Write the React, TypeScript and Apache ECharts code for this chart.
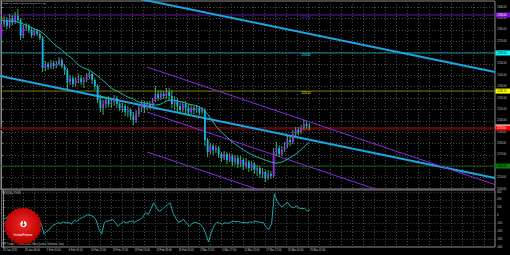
import React, { useEffect, useRef } from "react";
import * as echarts from "echarts";

// ---------- data ----------
const timeLabels = [
  "26 Jan 2015", "29 Jan 09:00", "3 Feb 05:00", "6 Feb 01:00", "10 Feb 21:00",
  "13 Feb 17:00", "18 Feb 13:00", "23 Feb 09:00", "26 Feb 05:00", "2 Mar 21:00",
  "5 Mar 17:00", "12 Mar 21:00", "17 Mar 17:00", "20 Mar 05:00", "25 Mar 01:00",
];

// [open, close, low, high]
const candles: number[][] = [
  [1272.7, 1285.0, 1269.2, 1290.3], [1285.0, 1288.5, 1282.4, 1292.0], [1288.5, 1283.3, 1280.6, 1291.2],
  [1283.3, 1290.3, 1281.5, 1293.8], [1290.3, 1286.8, 1284.1, 1292.9], [1286.8, 1292.0, 1285.0, 1295.6],
  [1292.0, 1288.5, 1285.9, 1298.2], [1288.5, 1274.5, 1270.9, 1290.3], [1274.5, 1281.5, 1272.7, 1284.1],
  [1281.5, 1283.3, 1278.9, 1285.9], [1283.3, 1279.7, 1277.1, 1285.0], [1279.7, 1275.3, 1272.7, 1282.4],
  [1275.3, 1278.9, 1274.5, 1281.5], [1278.9, 1276.2, 1274.5, 1280.6], [1276.2, 1272.7, 1270.9, 1278.9],
  [1272.7, 1246.3, 1242.8, 1274.5], [1246.3, 1249.8, 1243.7, 1252.5], [1249.8, 1247.2, 1244.6, 1251.6],
  [1247.2, 1250.7, 1245.4, 1253.4], [1250.7, 1248.1, 1245.4, 1252.5], [1248.1, 1249.8, 1246.3, 1252.5],
  [1249.8, 1253.4, 1248.1, 1256.0], [1253.4, 1248.1, 1246.3, 1255.1], [1248.1, 1244.6, 1240.2, 1249.8],
  [1244.6, 1234.0, 1227.0, 1246.3], [1234.0, 1237.5, 1231.4, 1240.2], [1237.5, 1232.3, 1229.6, 1239.3],
  [1232.3, 1235.8, 1230.5, 1238.4], [1235.8, 1237.5, 1233.1, 1241.1], [1237.5, 1234.0, 1231.4, 1240.2],
  [1234.0, 1235.8, 1228.7, 1238.4], [1235.8, 1239.3, 1234.0, 1241.9], [1239.3, 1241.1, 1236.7, 1243.7],
  [1241.1, 1235.8, 1232.3, 1242.8], [1235.8, 1230.5, 1227.0, 1237.5], [1230.5, 1218.2, 1215.6, 1232.3],
  [1218.2, 1211.2, 1207.6, 1222.6], [1211.2, 1214.7, 1205.0, 1218.2], [1214.7, 1218.2, 1211.2, 1220.8],
  [1218.2, 1214.7, 1212.0, 1221.7], [1214.7, 1216.4, 1211.2, 1219.9], [1216.4, 1219.9, 1212.9, 1222.6],
  [1219.9, 1214.7, 1211.2, 1221.7], [1214.7, 1211.2, 1208.5, 1216.4], [1211.2, 1212.9, 1207.6, 1215.6],
  [1212.9, 1207.6, 1204.1, 1214.7], [1207.6, 1209.4, 1203.3, 1212.9], [1209.4, 1204.1, 1200.6, 1211.2],
  [1204.1, 1200.6, 1196.2, 1207.6], [1200.6, 1205.9, 1198.0, 1209.4], [1205.9, 1211.2, 1203.3, 1213.8],
  [1211.2, 1214.7, 1207.6, 1218.2], [1214.7, 1211.2, 1206.8, 1217.3], [1211.2, 1214.7, 1209.4, 1217.3],
  [1214.7, 1212.9, 1210.3, 1217.3], [1212.9, 1218.2, 1211.2, 1219.9], [1218.2, 1223.5, 1216.4, 1230.5],
  [1223.5, 1219.9, 1217.3, 1227.0], [1219.9, 1223.5, 1218.2, 1227.0], [1223.5, 1221.7, 1219.1, 1226.1],
  [1221.7, 1225.2, 1219.1, 1228.7], [1225.2, 1221.7, 1218.2, 1228.7], [1221.7, 1214.7, 1211.2, 1227.0],
  [1214.7, 1218.2, 1209.4, 1221.7], [1218.2, 1212.9, 1207.6, 1219.9], [1212.9, 1209.4, 1205.9, 1216.4],
  [1209.4, 1214.7, 1207.6, 1217.3], [1214.7, 1211.2, 1206.8, 1217.3], [1211.2, 1207.6, 1205.0, 1214.7],
  [1207.6, 1211.2, 1205.9, 1213.8], [1211.2, 1209.4, 1205.9, 1212.9], [1209.4, 1211.2, 1206.8, 1213.8],
  [1211.2, 1207.6, 1205.0, 1212.9], [1207.6, 1209.4, 1205.9, 1212.0], [1209.4, 1183.0, 1177.8, 1211.2],
  [1183.0, 1172.5, 1168.1, 1184.8], [1172.5, 1177.8, 1170.7, 1180.4], [1177.8, 1174.3, 1169.9, 1179.5],
  [1174.3, 1176.0, 1171.6, 1178.6], [1176.0, 1170.7, 1167.2, 1177.8], [1170.7, 1167.2, 1163.7, 1172.5],
  [1167.2, 1170.7, 1165.5, 1173.4], [1170.7, 1165.5, 1161.9, 1172.5], [1165.5, 1169.0, 1163.7, 1171.6],
  [1169.0, 1163.7, 1160.2, 1170.7], [1163.7, 1167.2, 1161.1, 1169.9], [1167.2, 1161.9, 1158.4, 1169.9],
  [1161.9, 1165.5, 1159.3, 1169.0], [1165.5, 1160.2, 1156.7, 1167.2], [1160.2, 1163.7, 1157.6, 1167.2],
  [1163.7, 1158.4, 1154.9, 1165.5], [1158.4, 1161.9, 1155.8, 1164.6], [1161.9, 1156.7, 1153.2, 1163.7],
  [1156.7, 1158.4, 1151.4, 1161.1], [1158.4, 1153.2, 1149.7, 1160.2], [1153.2, 1154.9, 1149.7, 1158.4],
  [1154.9, 1149.7, 1146.1, 1156.7], [1149.7, 1153.2, 1147.9, 1156.7], [1153.2, 1151.4, 1148.8, 1155.8],
  [1151.4, 1172.5, 1149.7, 1176.0], [1172.5, 1176.0, 1169.0, 1181.3], [1176.0, 1170.7, 1168.1, 1178.6],
  [1170.7, 1174.3, 1169.0, 1177.8], [1174.3, 1177.8, 1172.5, 1181.3], [1177.8, 1183.0, 1176.0, 1186.6],
  [1183.0, 1181.3, 1177.8, 1186.6], [1181.3, 1188.3, 1179.5, 1191.8], [1188.3, 1191.8, 1186.6, 1194.5],
  [1191.8, 1190.1, 1187.4, 1194.5], [1190.1, 1193.6, 1188.3, 1196.2], [1193.6, 1197.1, 1191.8, 1200.6],
  [1197.1, 1195.4, 1192.7, 1199.7], [1195.4, 1194.5, 1191.8, 1198.0],
];

// moving average [bar index, price]
const maPoints: number[][] = [
  [0, 1288.5], [2, 1287.6], [4, 1287.6], [6, 1286.8], [8, 1285.0], [10, 1283.3], [12, 1280.6],
  [14, 1278.9], [16, 1275.3], [18, 1270.1], [20, 1265.7], [22, 1262.2], [24, 1257.8], [26, 1254.2],
  [28, 1249.0], [30, 1246.3], [32, 1244.6], [34, 1241.1], [36, 1237.5], [38, 1233.1], [40, 1228.7],
  [42, 1226.1], [44, 1223.5], [46, 1220.8], [48, 1219.1], [50, 1216.4], [52, 1215.6], [54, 1214.7],
  [56, 1213.8], [58, 1214.7], [60, 1217.3], [62, 1218.2], [64, 1217.3], [66, 1216.4], [68, 1214.7],
  [70, 1213.8], [72, 1212.0], [74, 1208.5], [76, 1202.4], [78, 1195.4], [80, 1190.1], [82, 1185.7],
  [84, 1181.3], [86, 1177.8], [88, 1174.3], [90, 1171.6], [92, 1169.0], [94, 1167.2], [96, 1165.5],
  [98, 1163.7], [100, 1162.8], [102, 1163.7], [104, 1166.3], [106, 1169.0], [108, 1172.5],
  [110, 1176.9], [112, 1181.3],
];

// CCI per bar
const cciValues = [
  -50, -30, -12, 20, 40, 70, 90, -40, -60, -10, -20, -60, -70, -50, -110, -237, -200, -175, -130, -112,
  -90, -100, -80, -95, -87, -110, -60, -75, -40, -25, -5, 12, 0, -12, -60, -175, -237, -87, -70, -60,
  -50, -90, -137, -100, -75, -95, -80, -70, -87, -65, -50, -20, 37, 12, 90, 162, 100, 50, 75, 110,
  137, 162, 37, -30, -87, -70, -50, -100, -137, -100, -87, -95, -112, -150, -237, -337, -212, -130, -87, -95,
  -112, -90, -100, -87, -70, -80, -75, -90, -87, -95, -80, -87, -75, -80, -87, -90, -150, -175, -100, 280,
  180, 130, 110, 150, 162, 112, 100, 120, 95, 87, 90, 60, 74,
];

// trend lines [bar index, price]
const upperCyanLine = [[50.4, 1307.0], [179.5, 1242.8]];
const lowerCyanLine = [[-0.5, 1239.3], [179.5, 1149.7]];
const purpleUpper = [[53, 1247.2], [179.5, 1143.9]];
const purpleMiddle = [[53, 1207.7], [140, 1136.7]];
const purpleLower = [[53, 1172.5], [100, 1134.1]];

// horizontal levels
const levelPrices = [1293.0, 1259.6, 1226.1, 1193.6, 1160.2];
const redShadowPrice = 1192.3;
const bidPrice = 1194.5;
const titleText = "GOLD,H4  1195.40 1198.00 1191.80 1194.50";
const cciTitle = "CCI(14) 73.85";

// ---------- styles ----------
const SLOTS = 180;
const levelStyles = [
  { line: "#6a1aa0", tag: "#7d10cc", text: "#ffffff" },
  { line: "#178f95", tag: "#00ffff", text: "#000000" },
  { line: "#7f7f00", tag: "#ffff00", text: "#000000" },
  { line: "#a01818", tag: "#ff0000", text: "#ffffff" },
  { line: "#0c5c0c", tag: "#0a7a0a", text: "#000000" },
];
const GRID_LINE = { color: "#4a4a4a", type: [1, 2] as any, width: 1 };
const AXIS_TEXT = "#c8c8c8";

export default function App() {
  const ref = useRef<HTMLDivElement>(null);

  useEffect(() => {
    const chart = echarts.init(ref.current!, null, { renderer: "svg" });
    const slots = Array.from({ length: SLOTS }, (_, i) => String(i));

    const flat = (pts: number[][], color: string, width: number, z = 2) => ({
      type: "line",
      xAxisIndex: 1,
      yAxisIndex: 0,
      data: pts,
      symbol: "none",
      silent: true,
      clip: true,
      z,
      lineStyle: { color, width },
    });

    const series: any[] = [];
    levelPrices.forEach((p, k) => {
      series.push(flat([[-0.5, p], [179.5, p]], levelStyles[k].line, 1, 1));
    });
    series.push(flat([[-0.5, redShadowPrice], [179.5, redShadowPrice]], "#4a0000", 1, 1));
    series.push(flat(upperCyanLine, "#1aa6e2", 2, 2));
    series.push(flat(lowerCyanLine, "#1aa6e2", 2, 2));
    series.push(flat(purpleUpper, "#8a2be2", 1, 2));
    series.push(flat(purpleMiddle, "#8a2be2", 1, 2));
    series.push(flat(purpleLower, "#8a2be2", 1, 2));

    series.push({
      type: "custom",
      xAxisIndex: 0,
      yAxisIndex: 0,
      z: 4,
      silent: true,
      data: candles.map((c, i) => [i, c[0], c[1], c[2], c[3]]),
      encode: { x: 0, y: [1, 2, 3, 4] },
      renderItem: (_params: any, api: any) => {
        const i = api.value(0);
        const o = api.value(1);
        const c = api.value(2);
        const l = api.value(3);
        const h = api.value(4);
        const po = api.coord([i, o]);
        const x = po[0];
        const yo = po[1];
        const yc = api.coord([i, c])[1];
        const yl = api.coord([i, l])[1];
        const yh = api.coord([i, h])[1];
        const w = api.size([1, 0])[0] * 0.65;
        const up = c >= o;
        return {
          type: "group",
          children: [
            {
              type: "line",
              shape: { x1: x, y1: yh, x2: x, y2: yl },
              style: { stroke: "#34b860", lineWidth: 1 },
            },
            {
              type: "rect",
              shape: { x: x - w / 2, y: Math.min(yo, yc), width: w, height: Math.max(Math.abs(yc - yo), 0.8) },
              style: { fill: up ? "#9b30e8" : "#12b4ee" },
            },
          ],
        };
      },
    });

    series.push({
      type: "line",
      xAxisIndex: 1,
      yAxisIndex: 0,
      data: maPoints,
      symbol: "none",
      smooth: 0.3,
      silent: true,
      z: 5,
      lineStyle: { color: "#1fb5ad", width: 1 },
    });

    series.push({
      type: "line",
      xAxisIndex: 2,
      yAxisIndex: 1,
      data: cciValues,
      symbol: "none",
      silent: true,
      z: 3,
      lineStyle: { color: "#1ba9a9", width: 1 },
    });

    const option: any = {
      animation: false,
      backgroundColor: "#000000",
      textStyle: { fontFamily: "Liberation Sans" },
      grid: [
        { left: 0, top: 1, width: 495, height: 188, show: true, borderColor: "#8c8c8c", borderWidth: 1 },
        { left: 0, top: 190, width: 495, height: 57, show: true, borderColor: "#8c8c8c", borderWidth: 1 },
      ],
      xAxis: [
        {
          gridIndex: 0, type: "category", data: slots, boundaryGap: true,
          axisLine: { show: false }, axisTick: { show: false }, axisLabel: { show: false },
          splitLine: { show: true, interval: 3, lineStyle: GRID_LINE },
        },
        { gridIndex: 0, type: "value", min: -0.5, max: 179.5, show: false },
        {
          gridIndex: 1, type: "category", data: slots, boundaryGap: true, position: "bottom",
          axisLine: { show: false }, axisTick: { show: false },
          axisLabel: {
            show: true, interval: 7, fontSize: 2.6, color: AXIS_TEXT, align: "left", margin: 1.5,
            formatter: (_v: string, i: number) => timeLabels[i / 8] ?? "",
          },
          splitLine: { show: true, interval: 3, lineStyle: GRID_LINE },
        },
        { gridIndex: 1, type: "value", min: -0.5, max: 179.5, show: false },
      ],
      yAxis: [
        {
          gridIndex: 0, type: "value", position: "right", min: 1140, max: 1305.3, interval: 10,
          axisLine: { show: true, lineStyle: { color: "#8c8c8c" } },
          axisTick: { show: true, length: 1.5, lineStyle: { color: "#8c8c8c" } },
          axisLabel: {
            fontSize: 2.6, color: AXIS_TEXT, margin: 2, showMaxLabel: false,
            formatter: (v: number) => v.toFixed(2),
          },
          splitLine: { show: true, lineStyle: GRID_LINE },
        },
        {
          gridIndex: 1, type: "value", position: "right", min: -400, max: 325, interval: 100,
          axisLine: { show: true, lineStyle: { color: "#8c8c8c" } },
          axisTick: { show: true, length: 1.5, lineStyle: { color: "#8c8c8c" } },
          axisLabel: {
            fontSize: 2.6, color: AXIS_TEXT, margin: 2, showMaxLabel: false,
            formatter: (v: number) => String(v),
          },
          splitLine: { show: true, lineStyle: GRID_LINE },
        },
      ],
      series,
    };

    chart.setOption(option);

    const py = (p: number) => chart.convertToPixel({ yAxisIndex: 0 }, p) as number;
    const px = (i: number) => chart.convertToPixel({ xAxisIndex: 1 }, i) as number;

    const graphics: any[] = [];
    // level labels inside chart
    levelPrices.forEach((p, k) => {
      graphics.push({
        type: "text", x: px(109), y: py(p) + 1, z: 10,
        style: { text: p.toFixed(2), fontSize: 2.6, fill: levelStyles[k].line === "#a01818" ? "#e02020" : levelStyles[k].tag, textVerticalAlign: "top", fontFamily: "Liberation Sans" },
      });
    });
    // bid tag
    const by = py(bidPrice);
    graphics.push({ type: "rect", shape: { x: 495.5, y: by - 2.5, width: 15, height: 5 }, style: { fill: "#ffffff" }, z: 10 });
    // level tags
    levelPrices.forEach((p, k) => {
      const y = py(p);
      graphics.push({ type: "rect", shape: { x: 495.5, y: y - 2.5, width: 15, height: 5 }, style: { fill: levelStyles[k].tag }, z: 11 });
      graphics.push({
        type: "text", x: 497, y, z: 12,
        style: { text: p.toFixed(2), fontSize: 2.6, fill: levelStyles[k].text, textVerticalAlign: "middle", fontFamily: "Liberation Sans" },
      });
    });
    // titles
    graphics.push({ type: "text", x: 2, y: 2, z: 12, style: { text: titleText, fontSize: 2.2, fill: "#d0d0d0", textVerticalAlign: "top", fontFamily: "Liberation Sans" } });
    graphics.push({ type: "text", x: 2, y: 191.5, z: 12, style: { text: cciTitle, fontSize: 3, fill: "#d0d0d0", textVerticalAlign: "top", fontFamily: "Liberation Sans" } });
    graphics.push({ type: "text", x: 2, y: 243.3, z: 12, style: { text: "IFR Trader, © 2001-2014, MetaQuotes Software Corp.", fontSize: 2.6, fill: "#bbbbbb", textVerticalAlign: "top", fontFamily: "Liberation Sans" } });

    // logo
    const star: number[][] = [];
    for (let k = 0; k < 56; k++) {
      const r = k % 2 === 0 ? 19 : 17.4;
      const a = (k * Math.PI) / 28;
      star.push([23 + r * Math.cos(a), 226 + r * Math.sin(a)]);
    }
    graphics.push({
      type: "polygon", z: 20, shape: { points: star },
      style: {
        fill: new echarts.graphic.RadialGradient(0.5, 0.45, 0.6, [
          { offset: 0, color: "#ee2a2a" },
          { offset: 0.7, color: "#c40606" },
          { offset: 1, color: "#9a0000" },
        ]),
      },
    });
    graphics.push({ type: "circle", z: 21, shape: { cx: 23.5, cy: 224, r: 3.2 }, style: { fill: "#ffffff" } });
    graphics.push({ type: "circle", z: 22, shape: { cx: 23.5, cy: 224.6, r: 1.3 }, style: { fill: "#c80808" } });
    graphics.push({ type: "rect", z: 22, shape: { x: 23, y: 221, width: 1, height: 2.2 }, style: { fill: "#c80808" } });
    graphics.push({
      type: "text", x: 23, y: 234.5, z: 22,
      style: { text: "InstaForex", fontSize: 4, fill: "#ffffff", textAlign: "center", textVerticalAlign: "middle", fontFamily: "Liberation Sans" },
    });

    chart.setOption({ graphic: graphics });

    return () => chart.dispose();
  }, []);

  return (
    <div
      ref={ref}
      style={{ position: "absolute", left: 0, top: 0, width: 510, height: 255, background: "#000000" }}
    />
  );
}
